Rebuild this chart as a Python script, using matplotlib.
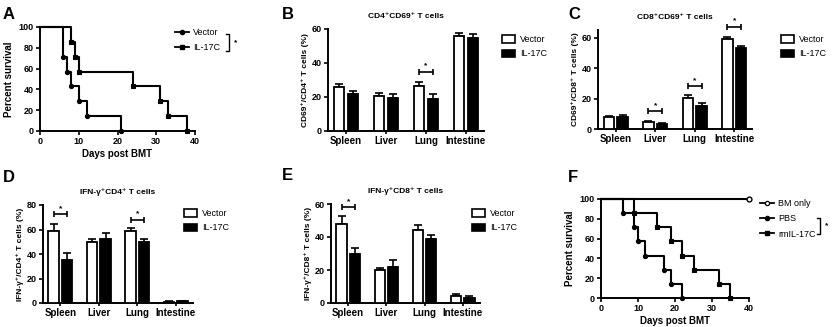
import numpy as np
import matplotlib
matplotlib.use('Agg')
import matplotlib.pyplot as plt
from matplotlib.lines import Line2D
from matplotlib.patches import Patch

plt.rcParams['font.family'] = ['Liberation Sans', 'DejaVu Sans']
plt.rcParams['axes.linewidth'] = 1.4

W, H = 833, 327

# ---- data ----
organs = ['Spleen', 'Liver', 'Lung', 'Intestine']

# survival, panel A
vec_days = [0, 6, 7, 8, 10, 12, 21]
vec_surv = [100, 71.4, 57.1, 42.9, 28.6, 14.3, 0]
il_days = [0, 8, 9, 10, 24, 31, 33, 38]
il_surv = [100, 85.7, 71.4, 57.1, 42.9, 28.6, 14.3, 0]

# survival, panel F
bm_days = [0, 40]
bm_surv = [100, 100]
pbs_days = [0, 6, 9, 10, 12, 17, 19, 22]
pbs_surv = [100, 85.7, 71.4, 57.1, 42.9, 28.6, 14.3, 0]
rm_days = [0, 9, 15, 19, 22, 25, 32, 35]
rm_surv = [100, 85.7, 71.4, 57.1, 42.9, 28.6, 14.3, 0]

# bar panels: mean and SEM
b_vec = [26, 20.5, 26.5, 56]
b_vec_err = [1.5, 2, 2.5, 1.5]
b_il = [22, 19.5, 19, 55]
b_il_err = [1.5, 2, 2.5, 2]

c_vec = [8, 4.5, 20.5, 59]
c_vec_err = [0.5, 0.6, 1.5, 1.5]
c_il = [8, 3.5, 15, 53]
c_il_err = [1, 0.5, 2, 1.5]

d_vec = [58.5, 49.5, 59, 1]
d_vec_err = [6, 3, 2.5, 0.3]
d_il = [35, 52, 49.5, 1.5]
d_il_err = [5.5, 5.5, 2.5, 0.4]

e_vec = [48, 20, 44, 4]
e_vec_err = [5, 1.5, 3, 1.5]
e_il = [30, 22, 39, 3]
e_il_err = [3.5, 4, 2.5, 1.5]

fig = plt.figure(figsize=(W / 100, H / 100), dpi=100)


def ax_px(left, top, right, bottom):
    return fig.add_axes([left / W, 1 - bottom / H, (right - left) / W, (bottom - top) / H])


def style(ax):
    for s in ['top', 'right']:
        ax.spines[s].set_visible(False)
    ax.tick_params(length=3, width=1.2, labelsize=6.5, pad=1.5)
    for lab in ax.get_xticklabels() + ax.get_yticklabels():
        lab.set_fontweight('bold')


def survival(ax, days, surv, marker, fill='k'):
    ax.step(days, surv, where='post', color='k', lw=1.5, clip_on=False)
    ax.plot(days[1:], surv[1:], ls='none', marker=marker, ms=3, mfc=fill, mec='k',
            mew=0.8, clip_on=False, zorder=5)


def bars(ax, vec, vec_err, il, il_err, ymax, yticks, title, ylabel, sig):
    x = np.arange(len(organs))
    bw, off = 0.27, 0.175
    ax.bar(x - off, vec, bw, color='white', edgecolor='k', lw=1.3, zorder=3)
    ax.bar(x + off, il, bw, color='k', edgecolor='k', lw=1.3, zorder=3)
    ax.errorbar(x - off, vec, yerr=[np.zeros(4), vec_err], fmt='none', ecolor='k',
                elinewidth=1.2, capsize=3, capthick=1.2, zorder=2)
    ax.errorbar(x + off, il, yerr=[np.zeros(4), il_err], fmt='none', ecolor='k',
                elinewidth=1.2, capsize=3, capthick=1.2, zorder=2)
    ax.set_xlim(-0.45, 3.45)
    ax.set_ylim(0, ymax)
    ax.set_yticks(yticks)
    ax.set_xticks(x)
    ax.set_xticklabels(organs)
    style(ax)
    ax.tick_params(axis='x', labelsize=7, length=2)
    ax.set_title(title, fontsize=6, fontweight='bold', pad=8)
    ax.set_ylabel(ylabel, fontsize=6, fontweight='bold', labelpad=2)
    for i, yb in sig:
        ax.errorbar([i], [yb], xerr=[[off], [off]], fmt='none', ecolor='k',
                    elinewidth=1.2, capsize=2.5, capthick=1.2, clip_on=False)
        ax.text(i, yb + ymax * 0.025, '*', ha='center', va='bottom', fontsize=6,
                fontweight='bold', clip_on=False)


def bar_legend(x, y):
    handles = [Patch(facecolor='white', edgecolor='k', lw=1.2, label='Vector'),
               Patch(facecolor='k', edgecolor='k', lw=1.2, label='IL-17C')]
    fig.legend(handles=handles, loc='upper left', bbox_to_anchor=(x / W, 1 - y / H),
               frameon=False, fontsize=6.5, handlelength=1.4, handleheight=0.9,
               handletextpad=0.6, labelspacing=0.6, borderaxespad=0, borderpad=0)


def bracket(x, y0, y1):
    fig.add_artist(Line2D([x / W - 0.004, x / W, x / W, x / W - 0.004],
                          [1 - y0 / H, 1 - y0 / H, 1 - y1 / H, 1 - y1 / H],
                          color='k', lw=1))
    fig.text(x / W + 0.006, 1 - (y0 + y1) / 2 / H, '*', fontsize=6, fontweight='bold',
             ha='left', va='center')


# ---- A ----
axA = ax_px(40, 27, 195, 131)
survival(axA, vec_days, vec_surv, 'o')
survival(axA, il_days, il_surv, 's')
axA.set_xlim(0, 40)
axA.set_ylim(0, 100)
axA.set_xticks([0, 10, 20, 30, 40])
axA.set_yticks([0, 20, 40, 60, 80, 100])
style(axA)
axA.set_xlabel('Days post BMT', fontsize=7, fontweight='bold', labelpad=2)
axA.set_ylabel('Percent survival', fontsize=7, fontweight='bold', labelpad=3)
hA = [Line2D([], [], color='k', lw=1.3, marker='o', ms=3, label='Vector'),
      Line2D([], [], color='k', lw=1.3, marker='s', ms=3, label='IL-17C')]
fig.legend(handles=hA, loc='upper left', bbox_to_anchor=(175 / W, 1 - 28 / H), frameon=False,
           fontsize=6.5, handlelength=1.5, handletextpad=0.5, labelspacing=0.7,
           borderaxespad=0, borderpad=0)
bracket(229, 34, 51)

# ---- B ----
axB = ax_px(328, 29, 484, 131)
bars(axB, b_vec, b_vec_err, b_il, b_il_err, 60, [0, 20, 40, 60],
     'CD4⁺CD69⁺ T cells', 'CD69⁺/CD4⁺ T cells (%)', [(2, 35)])
bar_legend(502, 35)

# ---- C ----
axC = ax_px(598, 30, 752, 129)
bars(axC, c_vec, c_vec_err, c_il, c_il_err, 65, [0, 20, 40, 60],
     'CD8⁺CD69⁺ T cells', 'CD69⁺/CD8⁺ T cells (%)', [(1, 11.5), (2, 28), (3, 67)])
bar_legend(781, 35)

# ---- D ----
axD = ax_px(43, 205, 193, 303)
bars(axD, d_vec, d_vec_err, d_il, d_il_err, 80, [0, 20, 40, 60, 80],
     'IFN-γ⁺CD4⁺ T cells', 'IFN-γ⁺/CD4⁺ T cells (%)', [(0, 72.5), (2, 68)])
bar_legend(184, 209)

# ---- E ----
axE = ax_px(331, 204, 480, 303)
bars(axE, e_vec, e_vec_err, e_il, e_il_err, 60, [0, 20, 40, 60],
     'IFN-γ⁺CD8⁺ T cells', 'IFN-γ⁺/CD8⁺ T cells (%)', [(0, 58)])
bar_legend(472, 209)

# ---- F ----
axF = ax_px(601, 199, 749, 298)
axF.plot(bm_days, bm_surv, color='k', lw=1.5, clip_on=False)
axF.plot(bm_days[-1:], bm_surv[-1:], ls='none', marker='o', ms=3.5, mfc='white', mec='k',
         mew=1, clip_on=False, zorder=5)
survival(axF, pbs_days, pbs_surv, 'o')
survival(axF, rm_days, rm_surv, 's')
axF.set_xlim(0, 40)
axF.set_ylim(0, 100)
axF.set_xticks([0, 10, 20, 30, 40])
axF.set_yticks([0, 20, 40, 60, 80, 100])
style(axF)
axF.set_xlabel('Days post BMT', fontsize=7, fontweight='bold', labelpad=2)
axF.set_ylabel('Percent survival', fontsize=7, fontweight='bold', labelpad=3)
hF = [Line2D([], [], color='k', lw=1.3, marker='o', ms=3, mfc='white', mew=0.9, label='BM only'),
      Line2D([], [], color='k', lw=1.3, marker='o', ms=3, label='PBS'),
      Line2D([], [], color='k', lw=1.3, marker='s', ms=3, label='rmIL-17C')]
fig.legend(handles=hF, loc='upper left', bbox_to_anchor=(760 / W, 1 - 199 / H), frameon=False,
           fontsize=6.5, handlelength=1.5, handletextpad=0.5, labelspacing=0.7,
           borderaxespad=0, borderpad=0)
bracket(820, 218, 234)

# panel letters
for lab, x, y in [('A', 3, 19), ('B', 282, 19), ('C', 568, 19),
                  ('D', 3, 182), ('E', 282, 180), ('F', 568, 182)]:
    fig.text(x / W, 1 - y / H, lab, fontsize=12, fontweight='bold', ha='left', va='baseline')

fig.savefig('out.png', dpi=100)
